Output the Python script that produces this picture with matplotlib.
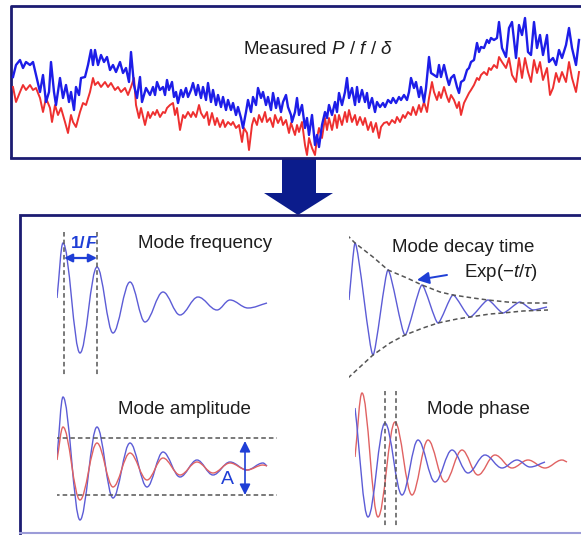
import matplotlib
matplotlib.use("Agg")
import matplotlib.pyplot as plt
from matplotlib.path import Path
from matplotlib.patches import PathPatch, Polygon

plt.rcParams['font.family'] = ['Liberation Sans', 'DejaVu Sans']
plt.rcParams['mathtext.fontset'] = 'custom'
plt.rcParams['mathtext.rm'] = 'Liberation Sans'
plt.rcParams['mathtext.it'] = 'Liberation Sans:italic'
plt.rcParams['mathtext.bf'] = 'Liberation Sans:bold'

# ---- measured signal (top box), sample position / level
t_blue = [13, 16, 20, 23, 26, 30, 33, 36, 40, 43, 46, 49, 51, 54, 56, 60, 63, 66, 69, 71,
          74, 76, 79, 81, 85, 88, 91, 93, 95, 98, 101, 104, 107, 110, 113, 116, 120, 123, 126, 129,
          131, 134, 137, 140, 142, 146,
          150, 153, 155, 157, 160, 163, 165, 167, 169, 172, 174, 176, 178, 181, 183, 186, 188, 191, 193, 196,
          198, 201, 203, 206, 208, 211, 213, 216, 218, 221, 223, 226, 228, 231, 233, 236, 238, 241, 243, 246,
          248, 251, 253, 256, 258, 261, 263, 266, 268, 271, 273, 276, 278, 281, 283, 286, 288, 291,
          292, 295, 297, 299, 302, 305, 307, 309, 312, 315, 317, 319, 322, 325, 327, 329, 332, 335, 337, 339,
          342, 345, 347, 349, 352, 355, 357, 359, 362, 365, 367, 369, 372, 375, 377, 380, 383, 385, 388, 391,
          393, 396, 399, 401, 404, 407, 409, 411, 414, 416, 419, 421, 424, 426, 429, 431,
          434, 437, 439, 441, 444, 447, 449, 451, 454, 457, 459, 461, 464, 467, 469, 471, 474, 477, 479, 481,
          484, 487, 489, 491, 494, 497, 499, 502, 506, 509, 512, 516, 519, 522, 525, 528, 531, 534, 537, 540,
          543, 547, 549, 553, 556, 559, 562, 566, 569, 572, 576, 579]
p_blue = [77, 65, 60, 68, 62, 65, 62, 75, 92, 75, 102, 92, 62, 92, 105, 78, 98, 85, 102, 92,
          110, 87, 95, 78, 77, 65, 50, 65, 50, 65, 55, 62, 57, 70, 65, 72, 62, 73, 68, 82,
          52, 85, 98, 77, 102, 88,
          95, 87, 95, 82, 90, 87, 95, 80, 90, 82, 97, 92, 103, 90, 97, 88, 97, 90, 83, 95,
          85, 98, 87, 100, 83, 102, 90, 105, 95, 107, 97, 110, 100, 110, 103, 115, 107, 118, 128, 112,
          100, 112, 97, 105, 88, 98, 92, 105, 97, 110, 93, 108, 98, 112, 102, 95, 107, 115,
          122, 112, 98, 115, 105, 128, 118, 135, 115, 145, 135, 147, 125, 112, 118, 105, 115, 102, 112, 93,
          105, 92, 78, 98, 88, 105, 87, 102, 90, 102, 93, 108, 98, 112, 102, 107, 103, 107, 100, 103,
          98, 103, 97, 100, 95, 100, 92, 78, 88, 82, 97, 87, 102, 88, 57, 73,
          75, 77, 65, 77, 65, 78, 85, 78, 75, 87, 93, 82, 80, 70, 68, 62, 60, 43, 52, 47,
          48, 40, 43, 38, 40, 38, 22, 48, 57, 28, 22, 58, 25, 35, 18, 52, 55, 22, 48, 35,
          55, 35, 62, 58, 65, 50, 58, 45, 28, 48, 65, 40]
t_red = [13, 16, 20, 23, 26, 30, 33, 36, 40, 43, 46, 50, 52, 55, 58, 61, 65, 68, 71, 73,
         76, 80, 83, 86, 90, 93, 95, 98, 101, 105, 108, 111, 115, 118, 121, 125, 128, 131, 134, 136,
         139, 141, 145, 148,
         150, 153, 155, 157, 160, 163, 165, 167, 170, 173, 175, 177, 180, 183, 185, 188, 191, 193, 196, 199,
         201, 204, 207, 209, 212, 215, 217, 220, 223, 225, 228, 231, 233, 236, 239, 242, 244, 247, 249, 252,
         254, 257, 259, 262, 265, 267, 270, 273, 275, 278, 281, 283, 286, 289, 291,
         295, 297, 299, 302, 305, 307, 309, 312, 315, 317, 319, 322, 325, 327, 329, 332, 335, 337, 339, 342,
         345, 347, 349, 352, 355, 357, 360, 363, 365, 368, 371, 373, 376, 379, 381, 384, 387, 389, 392, 395,
         397, 400, 403, 405, 408, 411, 413, 416, 419, 421, 424, 427, 429, 432,
         434, 437, 439, 441, 444, 447, 449, 451, 454, 457, 459, 461, 464, 467, 469, 471, 474, 477, 479, 481,
         484, 487, 489, 491, 494, 497, 499, 502, 506, 509, 512, 516, 519, 522, 525, 528, 531, 534, 537, 540,
         543, 547, 550, 553, 556, 559, 562, 566, 569, 572, 576, 579]
p_red = [87, 102, 92, 85, 90, 85, 90, 88, 98, 112, 98, 108, 122, 105, 115, 108, 122, 133, 115, 122,
         127, 112, 103, 105, 92, 78, 85, 82, 87, 82, 87, 83, 90, 87, 92, 88, 95, 87, 78, 105,
         118, 108, 125, 112,
         118, 112, 115, 110, 117, 112, 113, 108, 105, 103, 115, 108, 130, 115, 118, 112, 117, 112, 117, 105,
         113, 118, 112, 125, 113, 125, 118, 127, 120, 127, 122, 125, 122, 128, 125, 142, 128, 133, 150, 125,
         118, 125, 115, 122, 112, 122, 118, 127, 115, 123, 117, 125, 120, 133, 123,
         135, 125, 132, 122, 145, 155, 138, 148, 155, 138, 128, 138, 118, 130, 118, 130, 115, 128, 115, 125,
         112, 122, 110, 122, 115, 125, 117, 125, 118, 130, 122, 132, 123, 138, 127, 123, 122, 125, 120, 123,
         117, 122, 115, 118, 112, 115, 107, 115, 105, 112, 102, 112, 98, 82,
         92, 100, 92, 98, 87, 97, 102, 95, 100, 108, 102, 115, 103, 97, 93, 90, 85, 78, 80, 75,
         72, 75, 68, 70, 65, 68, 57, 62, 68, 58, 75, 82, 58, 78, 58, 72, 82, 60, 73, 62,
         80, 68, 95, 88, 73, 82, 72, 82, 62, 78, 92, 72]

# ---- mode frequency: turning points of the damped response
freq_t = [0, 6, 23, 40, 56, 73, 88, 106, 123, 141, 160, 173, 191, 210]
freq_a = [2, 57, -53, 33, -33, 18, -22, 8, -15, 3, -10, 0, -8, -3]
freq_marks = [7, 40]

# ---- mode decay time
decay_t = [0, 6, 24, 39, 56, 73, 89, 104, 121, 139, 154, 171, 184, 198]
decay_a = [0, 57, -55, 30, -35, 15, -23, 5, -17, 0, -13, -2, -10, -7]
env_up_t = [-2, 6, 24, 39, 58, 73, 91, 104, 124, 139, 158, 174, 199]
env_up_a = [65, 57, 43, 30, 22, 15, 8, 5, 2, 0, -2, -3, -3]
env_lo_t = [-1, 24, 41, 56, 74, 89, 108, 121, 141, 154, 174, 199]
env_lo_a = [-78, -55, -43, -35, -28, -23, -19, -17, -14, -13, -11, -10]

# ---- mode amplitude: two responses
amp_t = [0, 6, 23, 40, 56, 73, 90, 106, 123, 140, 156, 173, 190, 206, 210]
amp_blue = [9, 69, -54, 39, -32, 23, -21, 14, -11, 6, -9, 4, -4, 3, 0]
amp_red = [6, 39, -34, 23, -21, 13, -14, 8, -9, 4, -7, 3, -4, 1, 0]
amp_levels = [28, -29]

# ---- mode phase: two responses shifted in time
ph_blue_t = [0, 13, 30, 47, 63, 80, 97, 113, 130, 147, 162, 175, 190]
ph_blue_a = [58, -51, 43, -29, 26, -16, 16, -7, 11, -2, 6, -1, 4]
ph_red_t = [0, 7, 23, 40, 57, 73, 90, 107, 123, 140, 157, 173, 190, 207, 212]
ph_red_a = [9, 73, -51, 44, -29, 26, -16, 16, -9, 11, -2, 6, -2, 6, 4]
ph_marks = [30, 41]

W, H = 581, 542
NAVY = '#1c1c72'
BLUE_TOP = '#1d1de8'
RED_TOP = '#ee3030'
BLUE = '#5c5cd6'
RED = '#e06262'
BLUE_MARK = '#1f3fd6'
GREY = '#555555'
TXT = '#1e1e1e'
FS = 13.5


def smooth(t, a, k):
    # cubic segments between turning points, flat at each turning point
    verts = [(t[0], a[0])]
    codes = [Path.MOVETO]
    n = len(t)
    for i in range(1, n):
        dx = t[i] - t[i - 1]
        if i == 1:
            c1 = (t[0] + dx * k, a[0] + (a[1] - a[0]) * k)
        else:
            c1 = (t[i - 1] + dx * k, a[i - 1])
        if i == n - 1:
            c2 = (t[i] - dx * k, a[i] - (a[i] - a[i - 1]) * k)
        else:
            c2 = (t[i] - dx * k, a[i])
        verts += [c1, c2, (t[i], a[i])]
        codes += [Path.CURVE4] * 3
    return Path(verts, codes)


def panel(x0, y0, w, h):
    ax = fig.add_axes([x0 / W, 1 - (y0 + h / 2) / H, w / W, h / H])
    ax.set_xlim(0, w)
    ax.set_ylim(-h / 2, h / 2)
    ax.axis('off')
    return ax


fig = plt.figure(figsize=(5.81, 5.42), dpi=100)
fig.patch.set_facecolor('white')

# layout: boxes and arrow
lay = fig.add_axes([0, 0, 1, 1])
lay.set_xlim(0, W)
lay.set_ylim(H, 0)
lay.axis('off')
lay.plot([11, 11, 600], [158, 6, 6], color=NAVY, lw=2.0, solid_capstyle='butt')
lay.plot([11, 600], [158, 158], color=NAVY, lw=2.0)
lay.plot([20, 20, 600], [533, 215, 215], color=NAVY, lw=2.0, solid_joinstyle='miter')
lay.plot([20, 600], [533, 533], color='#9c9cd8', lw=1.5)
lay.add_patch(Polygon([(282, 158), (316, 158), (316, 193), (333, 193), (298, 215),
                       (264, 193), (282, 193)], closed=True, color='#0b1c8c', lw=0))

# top measured signal
top = fig.add_axes([0, 1 - 160 / H, 1, 160 / H])
top.set_xlim(0, W)
top.set_ylim(160, 0)
top.axis('off')
top.plot(t_red, p_red, color=RED_TOP, lw=1.4, solid_joinstyle='round')
top.plot(t_blue, p_blue, color=BLUE_TOP, lw=1.7, solid_joinstyle='round')
top.text(318, 50, r'Measured $P\ /\ f\ /\ \delta$', ha='center', va='center',
         fontsize=FS, color=TXT)

dash = dict(color=GREY, lw=1.1, ls=(0, (3, 2)))

# mode frequency
ax1 = panel(57, 300, 230, 170)
ax1.add_patch(PathPatch(smooth(freq_t, freq_a, 0.36), fill=False, ec=BLUE, lw=1.0))
for m in freq_marks:
    ax1.plot([m, m], [68, -77], **dash)
ax1.annotate('', xy=(freq_marks[0], 42), xytext=(freq_marks[1], 42),
             arrowprops=dict(arrowstyle='<|-|>', color=BLUE_MARK, lw=1.6,
                             mutation_scale=12, shrinkA=0, shrinkB=0))
ax1.text(14, 57, '1/', ha='left', va='center', fontsize=12.5,
         fontweight='bold', color=BLUE_MARK)
ax1.text(28.5, 57, 'F', ha='left', va='center', fontsize=12.5,
         fontweight='bold', fontstyle='italic', color=BLUE_MARK)
ax1.text(81, 57, 'Mode frequency', ha='left', va='center', fontsize=FS, color=TXT)

# mode decay time
ax2 = panel(349, 300, 215, 170)
ax2.plot(env_up_t, env_up_a, **dash)
ax2.plot(env_lo_t, env_lo_a, **dash)
ax2.add_patch(PathPatch(smooth(decay_t, decay_a, 0.2), fill=False, ec=BLUE, lw=1.0))
ax2.annotate('', xy=(68, 20), xytext=(98, 25),
             arrowprops=dict(arrowstyle='-|>', color=BLUE_MARK, lw=1.4,
                             mutation_scale=18, shrinkA=0, shrinkB=0))
ax2.text(43, 53, 'Mode decay time', ha='left', va='center', fontsize=FS, color=TXT)
ax2.text(189, 28, r'Exp$(-t/\tau)$', ha='right', va='center', fontsize=FS, color=TXT)

# mode amplitude
ax3 = panel(57, 466, 225, 150)
for lv in amp_levels:
    ax3.plot([-2, 220], [lv, lv], **dash)
ax3.add_patch(PathPatch(smooth(amp_t, amp_blue, 0.36), fill=False, ec=BLUE, lw=1.0))
ax3.add_patch(PathPatch(smooth(amp_t, amp_red, 0.36), fill=False, ec=RED, lw=1.0))
ax3.annotate('', xy=(188, 25), xytext=(188, -29),
             arrowprops=dict(arrowstyle='<|-|>', color=BLUE_MARK, lw=1.2,
                             mutation_scale=16, shrinkA=0, shrinkB=0))
ax3.text(170, -14, 'A', ha='center', va='center', fontsize=14, color=BLUE_MARK)
ax3.text(61, 56, 'Mode amplitude', ha='left', va='center', fontsize=FS, color=TXT)

# mode phase
ax4 = panel(355, 466, 220, 150)
ax4.add_patch(PathPatch(smooth(ph_red_t, ph_red_a, 0.36), fill=False, ec=RED, lw=1.0))
ax4.add_patch(PathPatch(smooth(ph_blue_t, ph_blue_a, 0.36), fill=False, ec=BLUE, lw=1.0))
for m in ph_marks:
    ax4.plot([m, m], [83, -61], **dash)
ax4.text(72, 57, 'Mode phase', ha='left', va='center', fontsize=FS, color=TXT)

fig.savefig('out.png', dpi=100)
